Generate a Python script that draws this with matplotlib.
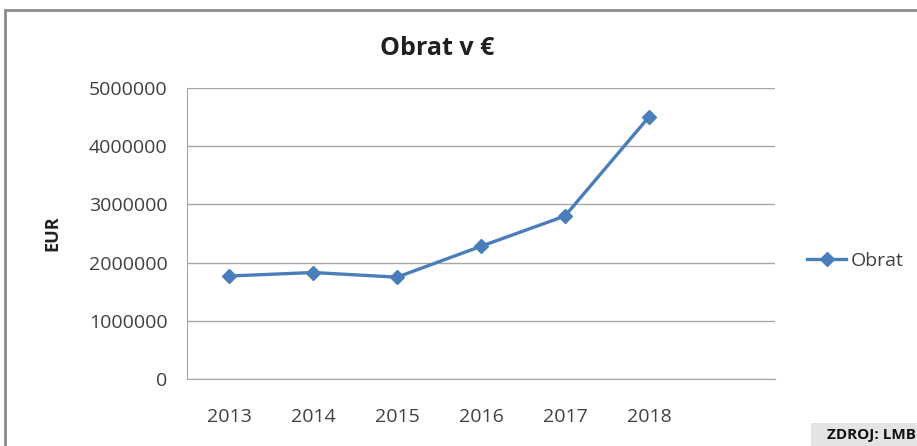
import matplotlib
matplotlib.use("Agg")
import matplotlib.pyplot as plt
from matplotlib.patches import Rectangle

# data
years = ["2013", "2014", "2015", "2016", "2017", "2018"]
obrat = [1770000, 1830000, 1750000, 2280000, 2800000, 4500000]
y_ticks = [0, 1000000, 2000000, 3000000, 4000000, 5000000]

plt.rcParams['font.family'] = ['Open Sans', 'DejaVu Sans']

fig = plt.figure(figsize=(9.17, 4.46), dpi=100)
ax = fig.add_axes([0.204, 0.150, 0.641, 0.653])

x = list(range(len(years)))
ax.plot(x, obrat, color='#4A7EBB', lw=2.4, marker='D', ms=7,
        label='Obrat', solid_joinstyle='round')

ax.set_xlim(-0.5, len(years) + 0.5)
ax.set_ylim(0, 5000000)
ax.set_xticks(x)
ax.set_xticklabels(years)
ax.set_yticks(y_ticks)
ax.set_yticklabels([str(v) for v in y_ticks])
ax.tick_params(length=0, labelsize=14, colors='#404040', pad=14)
ax.tick_params(axis='x', pad=21)
ax.grid(axis='y', color='#A6A6A6', lw=1)
ax.set_axisbelow(True)
for s in ['top', 'right']:
    ax.spines[s].set_visible(False)
for s in ['left', 'bottom']:
    ax.spines[s].set_color('#A6A6A6')

ax.set_ylabel('EUR', fontsize=13, fontweight='bold', color='#202020', labelpad=20)
fig.text(0.477, 0.892, 'Obrat v €', ha='center', va='center',
         fontsize=18, fontweight='bold', color='#202020')

ax.legend(loc='center left', bbox_to_anchor=(1.025, 0.405), frameon=False,
          fontsize=14, labelcolor='#404040', handlelength=2.0, handletextpad=0.25)

# outer chart frame
fig.patches.append(Rectangle((5 / 917, -0.1), 1.2, 1 - 10 / 446 + 0.1,
                             transform=fig.transFigure, fill=False,
                             edgecolor='#8C8C8C', lw=2))
# source box
fig.patches.append(Rectangle((811 / 917, 0), 106 / 917, 23 / 446,
                             transform=fig.transFigure, facecolor='#E4E4E4',
                             edgecolor='none'))
fig.text(0.999, 11 / 446, 'ZDROJ: LMB', ha='right', va='center',
         fontsize=11, fontweight='bold', color='#111111')

fig.savefig('out.png', dpi=100)
